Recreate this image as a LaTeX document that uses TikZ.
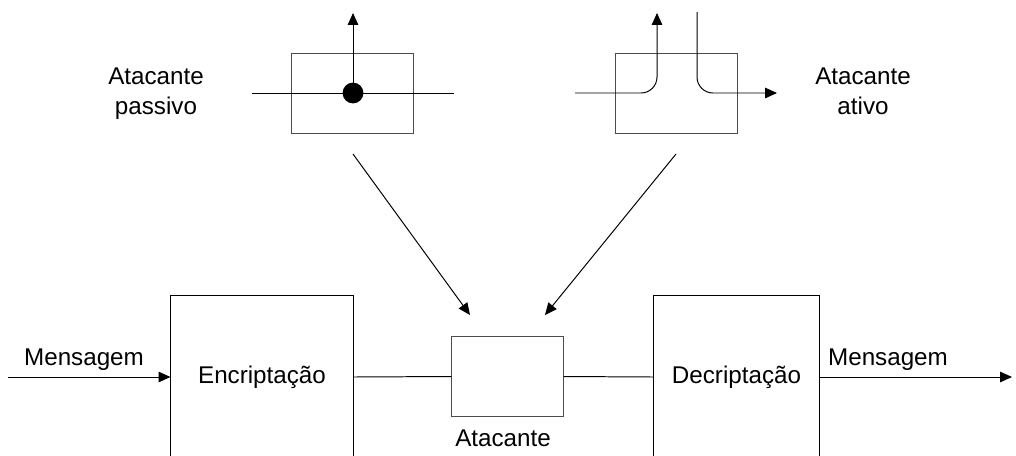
\documentclass[tikz,border=0pt]{standalone}
\usepackage{fontspec}
\setmainfont{Liberation Sans}
\usetikzlibrary{arrows.meta,positioning}
\tikzset{
  blockbox/.style={rectangle, draw=black, line width=0.7pt, inner sep=0pt,
    font=\fontsize{17.2}{21.3}\selectfont},
  tapbox/.style={blockbox, draw=black!70},
  flowline/.style={line width=0.7pt},
  flowarrow/.style={line width=0.7pt, -{Triangle[length=8.5pt,width=7.5pt]}},
  lbl/.style={font=\fontsize{17.2}{21.3}\selectfont, align=center, inner sep=0pt}
}

\begin{document}
\begin{tikzpicture}[x=0.025cm, y=-0.025cm]
  \clip (0,0) rectangle (1016,455);
  % attackers on top
  \node[tapbox, minimum width=3.03cm, minimum height=2cm] (passivo) at (352.5,93) {};
  \node[tapbox, minimum width=3.05cm, minimum height=2cm] (ativo) at (676,93) {};
  \node[lbl, anchor=north] (lpassivo) at (156,68) {Atacante\\passivo};
  \node[lbl, anchor=north] (lativo) at (863,68) {Atacante\\ativo};

  % passive: the line is only tapped
  \coordinate (pin) at (252,93);
  \coordinate (pout) at (454,93);
  \coordinate (ptop) at (353,13);
  \draw[flowline] (pin) -- (pout);
  \node[circle, fill, minimum size=0.52cm, inner sep=0pt] (tap) at (353,93) {};
  \draw[flowarrow] (tap.center) -- (ptop);

  % active: the line is cut and re-injected
  \coordinate (ain) at (575,93);
  \coordinate (aup) at (657,13);
  \coordinate (adown) at (697,12);
  \coordinate (aout) at (777,93);
  \draw[flowarrow, rounded corners=0.4cm] (ain) -| (aup);
  \draw[flowarrow, rounded corners=0.4cm] (adown) |- (aout);

  % channel
  \node[blockbox, minimum width=4.55cm, minimum height=4.05cm] (encr) at (262,377) {Encripta\c{c}\~ao};
  \node[tapbox, minimum width=2.78cm, minimum height=2cm] (atk) at (507.5,376.5) {};
  \node[blockbox, minimum width=4.13cm, minimum height=4.05cm] (decr) at (736.5,377) {Decripta\c{c}\~ao};
  \node[lbl, anchor=base] (latk) at (503,446) {Atacante};
  \coordinate (msgin) at (8,377);
  \coordinate (msgout) at (1012,377);
  \node[lbl, anchor=base] (lmsgin) at (84,365) {Mensagem};
  \node[lbl, anchor=base] (lmsgout) at (888,365) {Mensagem};

  \draw[flowarrow] (msgin) -- (encr.west);
  \draw[flowline] (encr.east) -- (atk.west);
  \draw[flowline] (atk.east) -- (decr.west);
  \draw[flowarrow] (decr.east) -- (msgout);

  % both kinds act on the channel
  \coordinate (d1a) at (353,154);
  \coordinate (d1b) at (470,315);
  \coordinate (d2a) at (676,154);
  \coordinate (d2b) at (545,315);
  \draw[flowarrow] (d1a) -- (d1b);
  \draw[flowarrow] (d2a) -- (d2b);
\end{tikzpicture}
\end{document}
